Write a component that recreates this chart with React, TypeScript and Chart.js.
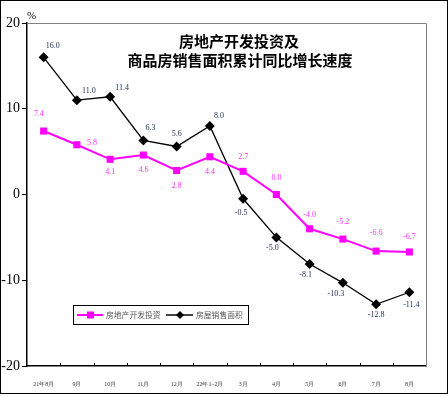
import React, { useEffect, useRef } from "react";
import { Chart, registerables } from "chart.js";

Chart.register(...registerables);

const categories = ["21年8月", "9月", "10月", "11月", "12月", "22年1–2月", "3月", "4月", "5月", "6月", "7月", "8月"];
const investment = [7.4, 5.8, 4.1, 4.6, 2.8, 4.4, 2.7, 0.0, -4.0, -5.2, -6.6, -6.7];
const salesArea = [16.0, 11.0, 11.4, 6.3, 5.6, 8.0, -0.5, -5.0, -8.1, -10.3, -12.8, -11.4];
const seriesNames = ["房地产开发投资", "房屋销售面积"];
const titleLines = ["房地产开发投资及", "商品房销售面积累计同比增长速度"];
const yTicks = [-20, -10, 0, 10, 20];

// label placement styles (offsets from the point, px)
const investLabelOffsets: [number, number][] = [
  [-5, -17], [15, -2], [0, 13], [0, 15], [0, 15], [0, 15],
  [0, -14], [0, -17], [0, -14], [0, -17], [0, -18], [0, -15],
];
const salesLabelOffsets: [number, number][] = [
  [9, -11], [12, -9], [12, -9], [7, -13], [0, -13], [9, -10],
  [-2, 14], [-4, 11], [-4, 11], [-7, 11], [0, 11], [2, 13],
];

const PINK = "#ff00ff";
const SERIF = "'Liberation Serif', 'DejaVu Serif', serif";
const CJK = "'Noto Sans CJK SC', sans-serif";

const decorPlugin = {
  id: "decor",
  afterDraw(chart: any) {
    const ctx = chart.ctx as CanvasRenderingContext2D;
    const { left, right, top, bottom } = chart.chartArea;
    const xs = chart.scales.x;
    ctx.save();
    // outer frame
    ctx.strokeStyle = "#000";
    ctx.lineWidth = 1;
    ctx.strokeRect(0.5, 0.5, chart.width - 1, chart.height - 3);
    // top and right frame of plot
    ctx.strokeStyle = "#808080";
    ctx.beginPath();
    ctx.moveTo(left, top + 0.5);
    ctx.lineTo(right + 0.5, top + 0.5);
    ctx.lineTo(right + 0.5, bottom);
    ctx.stroke();
    // x tick marks inside at category boundaries
    ctx.strokeStyle = "#000";
    ctx.beginPath();
    for (let i = 1; i < categories.length; i++) {
      const x = Math.round((xs.getPixelForValue(i - 1) + xs.getPixelForValue(i)) / 2) + 0.5;
      ctx.moveTo(x, bottom);
      ctx.lineTo(x, bottom - 3);
    }
    ctx.stroke();
    // % unit
    ctx.fillStyle = "#000";
    ctx.font = `11px ${SERIF}`;
    ctx.textAlign = "left";
    ctx.textBaseline = "alphabetic";
    ctx.fillText("%", left + 0, top - 4);
    // title
    ctx.font = `bold 15px ${CJK}`;
    ctx.textAlign = "center";
    ctx.textBaseline = "middle";
    ctx.fillText(titleLines[0], 239, 41);
    ctx.fillText(titleLines[1], 240, 60);
    // point labels
    ctx.font = `8px ${SERIF}`;
    const drawLabels = (dsIndex: number, values: number[], offs: [number, number][], color: string) => {
      const meta = chart.getDatasetMeta(dsIndex);
      ctx.fillStyle = color;
      meta.data.forEach((pt: any, i: number) => {
        ctx.fillText(values[i].toFixed(1), pt.x + offs[i][0], pt.y + offs[i][1]);
      });
    };
    drawLabels(0, investment, investLabelOffsets, "#ff33ff");
    drawLabels(1, salesArea, salesLabelOffsets, "#1c2a55");
    // legend
    const lx = 73, ly = 305, lw = 175, lh = 19;
    ctx.fillStyle = "#fff";
    ctx.fillRect(lx, ly, lw, lh);
    ctx.strokeStyle = "#000";
    ctx.lineWidth = 1;
    ctx.strokeRect(lx + 0.5, ly + 0.5, lw, lh);
    const cy = ly + 10;
    ctx.strokeStyle = PINK;
    ctx.lineWidth = 2;
    ctx.beginPath();
    ctx.moveTo(77, cy);
    ctx.lineTo(103, cy);
    ctx.stroke();
    ctx.fillStyle = PINK;
    ctx.fillRect(87, cy - 3.5, 7, 7);
    ctx.strokeStyle = "#444";
    ctx.lineWidth = 2;
    ctx.beginPath();
    ctx.moveTo(166, cy);
    ctx.lineTo(193, cy);
    ctx.stroke();
    ctx.fillStyle = "#000";
    ctx.beginPath();
    ctx.moveTo(180, cy - 4);
    ctx.lineTo(184, cy);
    ctx.lineTo(180, cy + 4);
    ctx.lineTo(176, cy);
    ctx.closePath();
    ctx.fill();
    ctx.fillStyle = "#555";
    ctx.font = `7.8px ${CJK}`;
    ctx.textAlign = "left";
    ctx.fillText(seriesNames[0], 106, cy);
    ctx.fillText(seriesNames[1], 196, cy);
    ctx.restore();
  },
};

export default function App() {
  const ref = useRef<HTMLCanvasElement>(null);
  useEffect(() => {
    document.body.style.margin = "0";
    const chart = new Chart(ref.current!, {
      type: "line",
      data: {
        labels: categories,
        datasets: [
          {
            label: seriesNames[0],
            data: investment,
            borderColor: PINK,
            backgroundColor: PINK,
            borderWidth: 2,
            pointStyle: "rect",
            pointRadius: 5,
            pointBorderWidth: 0,
            tension: 0,
          },
          {
            label: seriesNames[1],
            data: salesArea,
            borderColor: "#000",
            backgroundColor: "#000",
            borderWidth: 1.3,
            pointStyle: "rectRot",
            pointRadius: 5,
            pointBorderWidth: 0,
            tension: 0,
          },
        ],
      },
      options: {
        animation: false,
        responsive: false,
        events: [],
        layout: { padding: { left: 0, top: 23, right: 22, bottom: 0 } },
        plugins: { legend: { display: false }, title: { display: false }, tooltip: { enabled: false } },
        scales: {
          x: {
            offset: true,
            grid: { display: false, offset: true },
            border: { display: true, color: "#000", width: 1.5 },
            ticks: {
              color: "#333",
              font: { family: SERIF, size: 6 },
              maxRotation: 0,
              autoSkip: false,
              padding: 7,
            },
            afterFit(scale: any) {
              scale.height = 30;
            },
          },
          y: {
            min: -20,
            max: 20,
            afterBuildTicks(scale: any) {
              scale.ticks = yTicks.map((v) => ({ value: v }));
            },
            grid: { drawOnChartArea: false, tickLength: 5, color: "#000" },
            border: { display: true, color: "#000", width: 1.5 },
            ticks: {
              color: "#000",
              font: { family: SERIF, size: 14 },
              padding: 2,
            },
            afterFit(scale: any) {
              scale.width = 27;
            },
          },
        },
      },
      plugins: [decorPlugin],
    });
    return () => chart.destroy();
  }, []);
  return <canvas ref={ref} width={448} height={396} style={{ display: "block" }} />;
}
